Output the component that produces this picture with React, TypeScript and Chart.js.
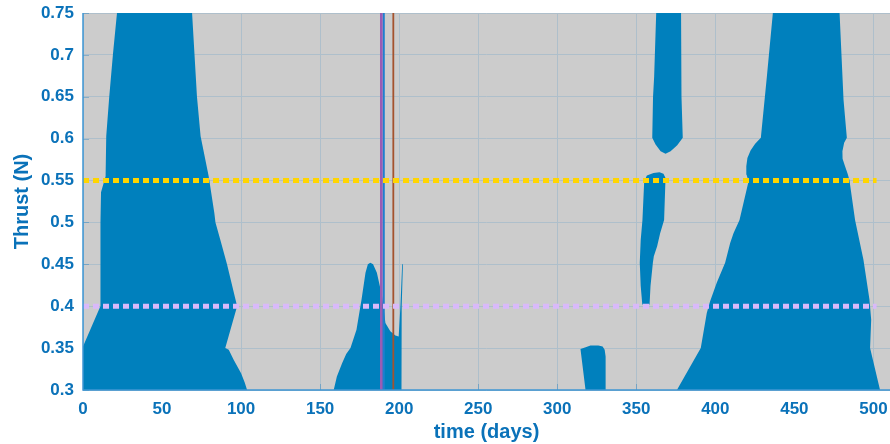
import React, { useEffect, useRef } from "react";
import { Chart, registerables } from "chart.js";

Chart.register(...registerables);

// ---------- data ----------
const X_TICKS = [0, 50, 100, 150, 200, 250, 300, 350, 400, 450, 500];
const X_TICK_LABELS = ["0", "50", "100", "150", "200", "250", "300", "350", "400", "450", "500"];
const Y_TICKS = [0.3, 0.35, 0.4, 0.45, 0.5, 0.55, 0.6, 0.65, 0.7, 0.75];
const Y_TICK_LABELS = ["0.3", "0.35", "0.4", "0.45", "0.5", "0.55", "0.6", "0.65", "0.7", "0.75"];
const X_RANGE = [0, 510.5];
const Y_RANGE = [0.3, 0.75];

type P = [number, number];

// feasible regions (time in days, thrust in N), outlined clockwise
const REGION_A: P[] = [
  [-2, 0.29], [-2, 0.352], [0, 0.352], [11.0, 0.4], [11.0, 0.45], [11.1, 0.5], [11.4, 0.536],
  [14.3, 0.555], [14.7, 0.603], [16.6, 0.65], [19.0, 0.702], [21.5, 0.75], [21.6, 0.76],
  [69.0, 0.76], [69.0, 0.75], [72.1, 0.65], [74.4, 0.603], [79.5, 0.555], [83.1, 0.511],
  [83.8, 0.5], [86.9, 0.479], [91.1, 0.45], [97.5, 0.4], [90.0, 0.35], [92.2, 0.348],
  [95.3, 0.336], [100.0, 0.32], [102.3, 0.309], [103.8, 0.3], [104.0, 0.29],
];
const REGION_B: P[] = [
  [158.6, 0.29], [158.6, 0.3], [160.6, 0.316], [163.9, 0.332], [166.5, 0.343], [169.2, 0.35],
  [173.0, 0.372], [176.2, 0.408], [178.7, 0.44], [180.2, 0.45], [181.8, 0.452], [183.5, 0.45],
  [185.9, 0.44], [189.2, 0.412], [191.3, 0.38], [194.4, 0.37], [197.6, 0.365], [199.7, 0.364],
  [200.8, 0.4], [201.9, 0.45], [202.4, 0.452], [201.6, 0.4], [201.4, 0.37], [201.5, 0.3],
  [201.5, 0.29],
];
const REGION_C: P[] = [
  [317.9, 0.29], [317.9, 0.3], [314.7, 0.349], [318.0, 0.351], [321.0, 0.353], [326.0, 0.353],
  [328.7, 0.352], [330.0, 0.348], [330.6, 0.34], [330.6, 0.3], [330.6, 0.29],
];
const REGION_D: P[] = [
  [362.6, 0.76], [378.3, 0.76], [378.3, 0.75], [378.9, 0.65], [379.4, 0.601], [375.9, 0.592],
  [371.7, 0.585], [368.5, 0.582], [365.4, 0.585], [362.2, 0.593], [360.1, 0.601], [360.6, 0.65],
  [361.3, 0.674], [362.6, 0.75],
];
const REGION_E: P[] = [
  [353.9, 0.503], [355.0, 0.549], [356.7, 0.556], [360.9, 0.559], [364.7, 0.56], [367.2, 0.558],
  [368.5, 0.553], [367.6, 0.503], [365.1, 0.487], [363.2, 0.4715], [361.1, 0.4595], [360.5, 0.452],
  [359.0, 0.424], [358.4, 0.402], [353.8, 0.402], [352.8, 0.424], [352.2, 0.452], [352.8, 0.479],
];
const REGION_F: P[] = [
  [375.7, 0.29], [375.7, 0.3], [390.8, 0.35], [394.6, 0.392], [396.7, 0.406], [400.9, 0.428],
  [406.2, 0.452], [409.4, 0.4755], [411.5, 0.487], [415.3, 0.503], [421.0, 0.549], [419.8, 0.557],
  [419.6, 0.567], [420.3, 0.577], [422.3, 0.586], [425.2, 0.594], [428.8, 0.601], [432.6, 0.674],
  [436.4, 0.75], [436.4, 0.76], [478.6, 0.76], [478.6, 0.75], [481.1, 0.6465], [483.2, 0.601],
  [481.5, 0.595], [480.4, 0.585], [480.5, 0.576], [481.9, 0.568], [483.7, 0.558], [484.8, 0.551],
  [488.4, 0.503], [493.7, 0.4555], [497.5, 0.408], [498.6, 0.384], [497.9, 0.35], [504.2, 0.3],
  [504.4, 0.29],
];
const REGIONS = [REGION_A, REGION_B, REGION_C, REGION_D, REGION_E, REGION_F];

// horizontal thrust levels and their span
const LEVEL_YELLOW = 0.55;
const LEVEL_LAVENDER = 0.4;
const LEVEL_SPAN = [0, 502];

// vertical event markers (days)
const MARKER_TIMES = [188.7, 190.2, 196.3];
const MARKER_COLORS = ["#9B5CB4", "#1E7FCF", "#A4532E"];
const MARKER_WIDTHS = [2.6, 2.2, 1.8];

// ---------- styles ----------
const FILL_BLUE = "rgb(0,128,189)";
const AXIS_BLUE = "#0A72B9";
const GRID = "#AEBFCB";
const BG_GRAY = "#CCCCCC";
const FONT = "'Liberation Sans', Arial, Helvetica, sans-serif";

export default function App() {
  const ref = useRef<HTMLCanvasElement | null>(null);

  useEffect(() => {
    document.body.style.margin = "0";
    const canvas = ref.current;
    if (!canvas) return;

    const datasets: any[] = [];

    datasets.push({
      label: "yellow",
      data: LEVEL_SPAN.map((x) => ({ x, y: LEVEL_YELLOW })),
      borderColor: "#FFD500",
      borderWidth: 5,
      borderDash: [6, 4],
      borderCapStyle: "butt",
      pointRadius: 0,
      fill: false,
      order: 1,
    });
    datasets.push({
      label: "lavender",
      data: LEVEL_SPAN.map((x) => ({ x, y: LEVEL_LAVENDER })),
      borderColor: "#D9B9FA",
      borderWidth: 5,
      borderDash: [6, 4],
      borderCapStyle: "butt",
      pointRadius: 0,
      fill: false,
      order: 1,
    });
    MARKER_TIMES.forEach((t, i) => {
      datasets.push({
        label: "marker" + i,
        data: [
          { x: t, y: Y_RANGE[0] - 0.01 },
          { x: t, y: Y_RANGE[1] + 0.01 },
        ],
        borderColor: MARKER_COLORS[i],
        borderWidth: MARKER_WIDTHS[i],
        pointRadius: 0,
        fill: false,
        order: 2,
      });
    });
    REGIONS.forEach((poly, i) => {
      datasets.push({
        label: "region" + i,
        data: poly.map(([x, y]) => ({ x, y })),
        backgroundColor: FILL_BLUE,
        borderColor: FILL_BLUE,
        borderWidth: 0,
        pointRadius: 0,
        tension: 0,
        fill: "shape",
        order: 3,
      });
    });

    const bgPlugin = {
      id: "bg",
      beforeDraw(chart: any) {
        const { ctx, chartArea: a } = chart;
        ctx.save();
        ctx.fillStyle = BG_GRAY;
        ctx.fillRect(a.left, a.top, a.right - a.left, a.bottom - a.top);
        ctx.restore();
      },
      beforeDatasetsDraw(chart: any) {
        const { ctx, chartArea: a, scales } = chart;
        ctx.save();
        ctx.strokeStyle = "rgba(10,114,185,0.35)";
        ctx.lineWidth = 1;
        ctx.beginPath();
        X_TICKS.forEach((v) => {
          const px = Math.round(scales.x.getPixelForValue(v)) + 0.5;
          ctx.moveTo(px, a.bottom);
          ctx.lineTo(px, a.bottom - 6);
        });
        Y_TICKS.forEach((v) => {
          const py = Math.round(scales.y.getPixelForValue(v)) + 0.5;
          ctx.moveTo(a.left, py);
          ctx.lineTo(a.left + 6, py);
        });
        ctx.stroke();
        ctx.restore();
      },
      afterDatasetsDraw(chart: any) {
        const { ctx, chartArea: a } = chart;
        ctx.save();
        ctx.strokeStyle = "#3F97D3";
        ctx.lineWidth = 1.5;
        ctx.beginPath();
        ctx.moveTo(a.left, a.top);
        ctx.lineTo(a.left, a.bottom);
        ctx.lineTo(a.right, a.bottom);
        ctx.stroke();
        ctx.restore();
      },
    };

    const chart = new Chart(canvas, {
      type: "line",
      data: { datasets },
      options: {
        animation: false,
        responsive: false,
        maintainAspectRatio: false,
        devicePixelRatio: 1,
        layout: { padding: { top: 13, left: 0, right: 0, bottom: 0 } },
        plugins: { legend: { display: false }, tooltip: { enabled: false } },
        elements: { point: { radius: 0 } },
        scales: {
          x: {
            type: "linear",
            min: X_RANGE[0],
            max: X_RANGE[1],
            afterBuildTicks: (s: any) => {
              s.ticks = X_TICKS.map((v) => ({ value: v }));
            },
            afterFit: (s: any) => {
              s.height = 54;
              s.paddingLeft = 0;
              s.paddingRight = 0;
              s.paddingTop = 0;
              s.paddingBottom = 0;
            },
            ticks: {
              color: AXIS_BLUE,
              font: { family: FONT, size: 17, weight: "bold" },
              padding: 9,
              maxRotation: 0,
              autoSkip: false,
              callback: (_v: any, i: number) => X_TICK_LABELS[i],
            },
            grid: { color: GRID, lineWidth: 1, drawTicks: false },
            border: { display: false },
            title: {
              display: true,
              text: "time (days)",
              color: AXIS_BLUE,
              font: { family: FONT, size: 20, weight: "bold" },
              padding: { top: 0, bottom: 0 },
            },
          },
          y: {
            type: "linear",
            min: Y_RANGE[0],
            max: Y_RANGE[1],
            afterBuildTicks: (s: any) => {
              s.ticks = Y_TICKS.map((v) => ({ value: v }));
            },
            afterFit: (s: any) => {
              s.width = 83;
              s.paddingLeft = 0;
              s.paddingRight = 0;
              s.paddingTop = 0;
              s.paddingBottom = 0;
            },
            ticks: {
              color: AXIS_BLUE,
              font: { family: FONT, size: 17, weight: "bold" },
              padding: 9,
              autoSkip: false,
              callback: (_v: any, i: number) => Y_TICK_LABELS[i],
            },
            grid: { color: GRID, lineWidth: 1, drawTicks: false },
            border: { display: false },
            title: {
              display: true,
              text: "Thrust (N)",
              color: AXIS_BLUE,
              font: { family: FONT, size: 20, weight: "bold" },
              padding: { top: 10, bottom: 0 },
            },
          },
        },
      } as any,
      plugins: [bgPlugin],
    });

    return () => chart.destroy();
  }, []);

  return (
    <canvas
      ref={ref}
      width={890}
      height={444}
      style={{ display: "block", width: "890px", height: "444px" }}
    />
  );
}
